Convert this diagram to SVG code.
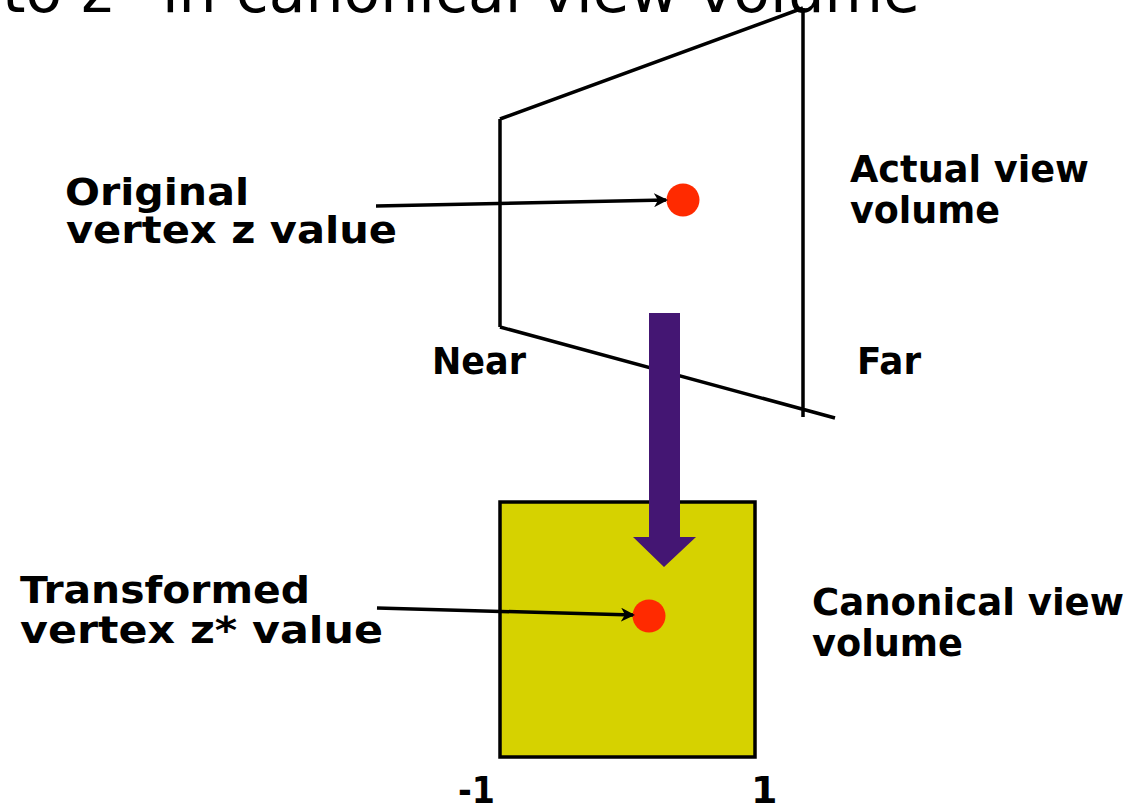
<svg xmlns="http://www.w3.org/2000/svg" width="1134" height="807" viewBox="0 0 1134 807">
<style>
.lbl{font-family:"DejaVu Sans",Verdana,sans-serif;font-weight:bold;font-size:38px;fill:#000}
.title{font-family:"DejaVu Sans",sans-serif;font-size:60px;fill:#000}
.edge{stroke:#000;stroke-width:3.5;fill:none}
.dot{fill:#FF2A00}
</style>
<defs>
<marker id="ah" markerWidth="14" markerHeight="14" refX="12" refY="7" orient="auto" markerUnits="userSpaceOnUse" viewBox="0 0 14 14">
<path d="M0,0 L14,7 L0,14 L4,7 z" fill="#000"/>
</marker>
</defs>
<rect width="1134" height="807" fill="#fff"/>
<text class="title" x="2" y="12" textLength="918" lengthAdjust="spacingAndGlyphs">to z* in canonical view volume</text>
<g id="frustum">
<path class="edge" d="M500,119 L500,327 M500,119 L803,8 M803,8 L803,417 M500,327 L835,418"/>
</g>
<g id="dot1"><circle class="dot" cx="683" cy="200" r="16.5"/></g>
<g id="canonical">
<rect x="500" y="502" width="255" height="255" fill="#D6D200" stroke="#000" stroke-width="3.5"/>
</g>
<g id="dot2"><circle class="dot" cx="649" cy="616" r="16.5"/></g>
<g id="transform-arrow">
<path d="M649,313 L680,313 L680,537 L696,537 L664,567 L633,537 L649,537 z" fill="#441673"/>
</g>
<g id="connectors">
<line class="edge" x1="376" y1="206" x2="666" y2="200" stroke-width="3" marker-end="url(#ah)"/>
<line class="edge" x1="377" y1="608" x2="633" y2="615" stroke-width="3" marker-end="url(#ah)"/>
</g>
<g id="labels">
<text class="lbl" x="65" y="205" textLength="184" lengthAdjust="spacingAndGlyphs">Original</text>
<text class="lbl" x="66" y="243" textLength="331" lengthAdjust="spacingAndGlyphs">vertex z value</text>
<text class="lbl" x="850" y="182" textLength="239" lengthAdjust="spacingAndGlyphs">Actual view</text>
<text class="lbl" x="850" y="223" textLength="150" lengthAdjust="spacingAndGlyphs">volume</text>
<text class="lbl" x="432" y="374" textLength="94" lengthAdjust="spacingAndGlyphs">Near</text>
<text class="lbl" x="857" y="374" textLength="64" lengthAdjust="spacingAndGlyphs">Far</text>
<text class="lbl" x="20" y="603" textLength="290" lengthAdjust="spacingAndGlyphs">Transformed</text>
<text class="lbl" x="20" y="643" textLength="363" lengthAdjust="spacingAndGlyphs">vertex z* value</text>
<text class="lbl" x="812" y="615" textLength="312" lengthAdjust="spacingAndGlyphs">Canonical view</text>
<text class="lbl" x="812" y="656" textLength="151" lengthAdjust="spacingAndGlyphs">volume</text>
<text class="lbl" x="458" y="803" textLength="37" lengthAdjust="spacingAndGlyphs">-1</text>
<text class="lbl" x="751" y="803">1</text>
</g>
</svg>
